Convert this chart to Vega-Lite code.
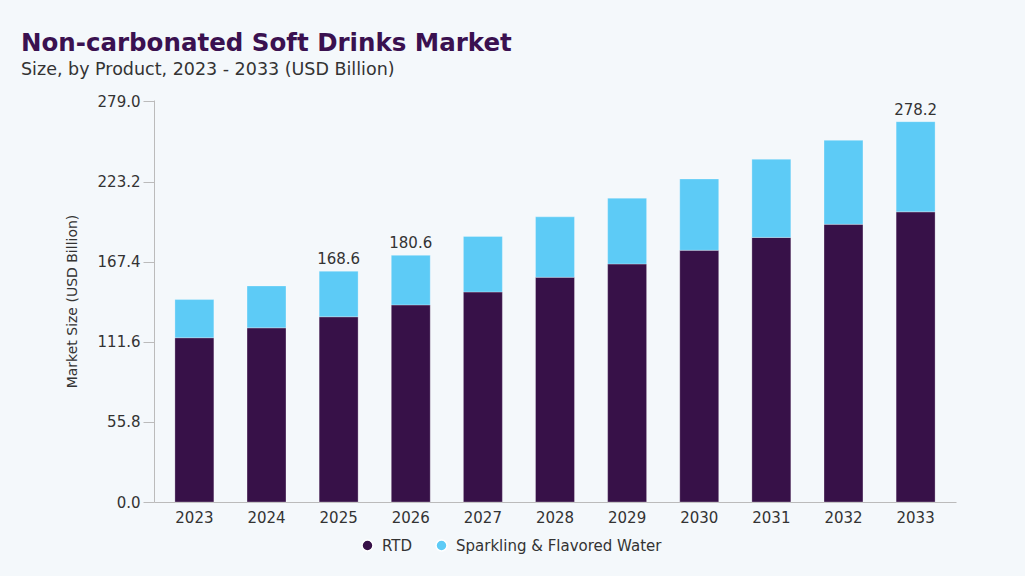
{
  "$schema": "https://vega.github.io/schema/vega-lite/v6.json",
  "width": 802,
  "height": 402,
  "autosize": {"type": "none"},
  "padding": {"left": 154, "top": 100, "right": 69, "bottom": 74},
  "background": "#f4f8fb",
  "config": {"view": {"stroke": null}},
  "title": {
    "text": "Non-carbonated Soft Drinks Market",
    "subtitle": "Size, by Product, 2023 - 2033 (USD Billion)",
    "anchor": "start",
    "frame": "group",
    "dx": -133,
    "offset": 15,
    "font": "DejaVu Sans",
    "fontSize": 24.5,
    "fontWeight": "bold",
    "color": "#3a1150",
    "subtitleFont": "DejaVu Sans",
    "subtitleFontSize": 17.5,
    "subtitleColor": "#333333",
    "subtitlePadding": 4
  },
  "datasets": {
    "bars": [
      {"year": "2023", "product": "RTD", "value": 114.4},
      {"year": "2023", "product": "Sparkling & Flavored Water", "value": 26.6},
      {"year": "2024", "product": "RTD", "value": 121.3},
      {"year": "2024", "product": "Sparkling & Flavored Water", "value": 29.2},
      {"year": "2025", "product": "RTD", "value": 129.0},
      {"year": "2025", "product": "Sparkling & Flavored Water", "value": 31.7},
      {"year": "2026", "product": "RTD", "value": 137.3},
      {"year": "2026", "product": "Sparkling & Flavored Water", "value": 34.5},
      {"year": "2027", "product": "RTD", "value": 146.3},
      {"year": "2027", "product": "Sparkling & Flavored Water", "value": 38.7},
      {"year": "2028", "product": "RTD", "value": 156.5},
      {"year": "2028", "product": "Sparkling & Flavored Water", "value": 42.1},
      {"year": "2029", "product": "RTD", "value": 165.8},
      {"year": "2029", "product": "Sparkling & Flavored Water", "value": 45.8},
      {"year": "2030", "product": "RTD", "value": 175.3},
      {"year": "2030", "product": "Sparkling & Flavored Water", "value": 49.7},
      {"year": "2031", "product": "RTD", "value": 184.3},
      {"year": "2031", "product": "Sparkling & Flavored Water", "value": 54.4},
      {"year": "2032", "product": "RTD", "value": 193.4},
      {"year": "2032", "product": "Sparkling & Flavored Water", "value": 58.5},
      {"year": "2033", "product": "RTD", "value": 202.1},
      {"year": "2033", "product": "Sparkling & Flavored Water", "value": 62.8}
    ],
    "labels": [
      {"year": "2025", "top": 160.7, "label": "168.6"},
      {"year": "2026", "top": 171.8, "label": "180.6"},
      {"year": "2033", "top": 264.9, "label": "278.2"}
    ]
  },
  "encoding": {
    "x": {
      "field": "year",
      "type": "ordinal",
      "title": null,
      "scale": {"paddingInner": 0.46, "paddingOuter": 0.29},
      "axis": {
        "labelAngle": 0,
        "ticks": false,
        "labelPadding": 8,
        "labelFontSize": 15,
        "labelFont": "DejaVu Sans",
        "labelColor": "#333333",
        "domainColor": "#bbbbbb"
      }
    }
  },
  "layer": [
    {
      "data": {"name": "bars"},
      "mark": {"type": "bar", "stroke": "#ffffff", "strokeOpacity": 0.35, "strokeWidth": 0.8},
      "encoding": {
        "y": {
          "field": "value",
          "type": "quantitative",
          "stack": "zero",
          "title": "Market Size (USD Billion)",
          "scale": {"domain": [0, 279]},
          "axis": {
            "values": [0, 55.8, 111.6, 167.4, 223.2, 279],
            "format": ".1f",
            "grid": false,
            "tickSize": 11,
            "tickColor": "#bbbbbb",
            "domainColor": "#bbbbbb",
            "labelPadding": 3,
            "labelFontSize": 15,
            "labelFont": "DejaVu Sans",
            "labelColor": "#333333",
            "titleFont": "DejaVu Sans",
            "titleFontSize": 14,
            "titleFontWeight": "normal",
            "titleColor": "#333333",
            "titlePadding": 18
          }
        },
        "color": {
          "field": "product",
          "type": "nominal",
          "title": null,
          "scale": {
            "domain": ["RTD", "Sparkling & Flavored Water"],
            "range": ["#371148", "#5dcbf6"]
          },
          "legend": {
            "orient": "none",
            "legendX": 206,
            "legendY": 438,
            "direction": "horizontal",
            "symbolType": "circle",
            "symbolSize": 120,
            "labelFontSize": 15,
            "labelFont": "DejaVu Sans",
            "labelColor": "#333333",
            "labelLimit": 0,
            "labelOffset": 7,
            "columnPadding": 20
          }
        },
        "order": {"field": "product", "sort": "ascending"}
      }
    },
    {
      "data": {"name": "labels"},
      "mark": {"type": "text", "baseline": "alphabetic", "dy": -7, "fontSize": 15, "font": "DejaVu Sans", "color": "#333333"},
      "encoding": {
        "y": {"field": "top", "type": "quantitative"},
        "text": {"field": "label"}
      }
    }
  ]
}
